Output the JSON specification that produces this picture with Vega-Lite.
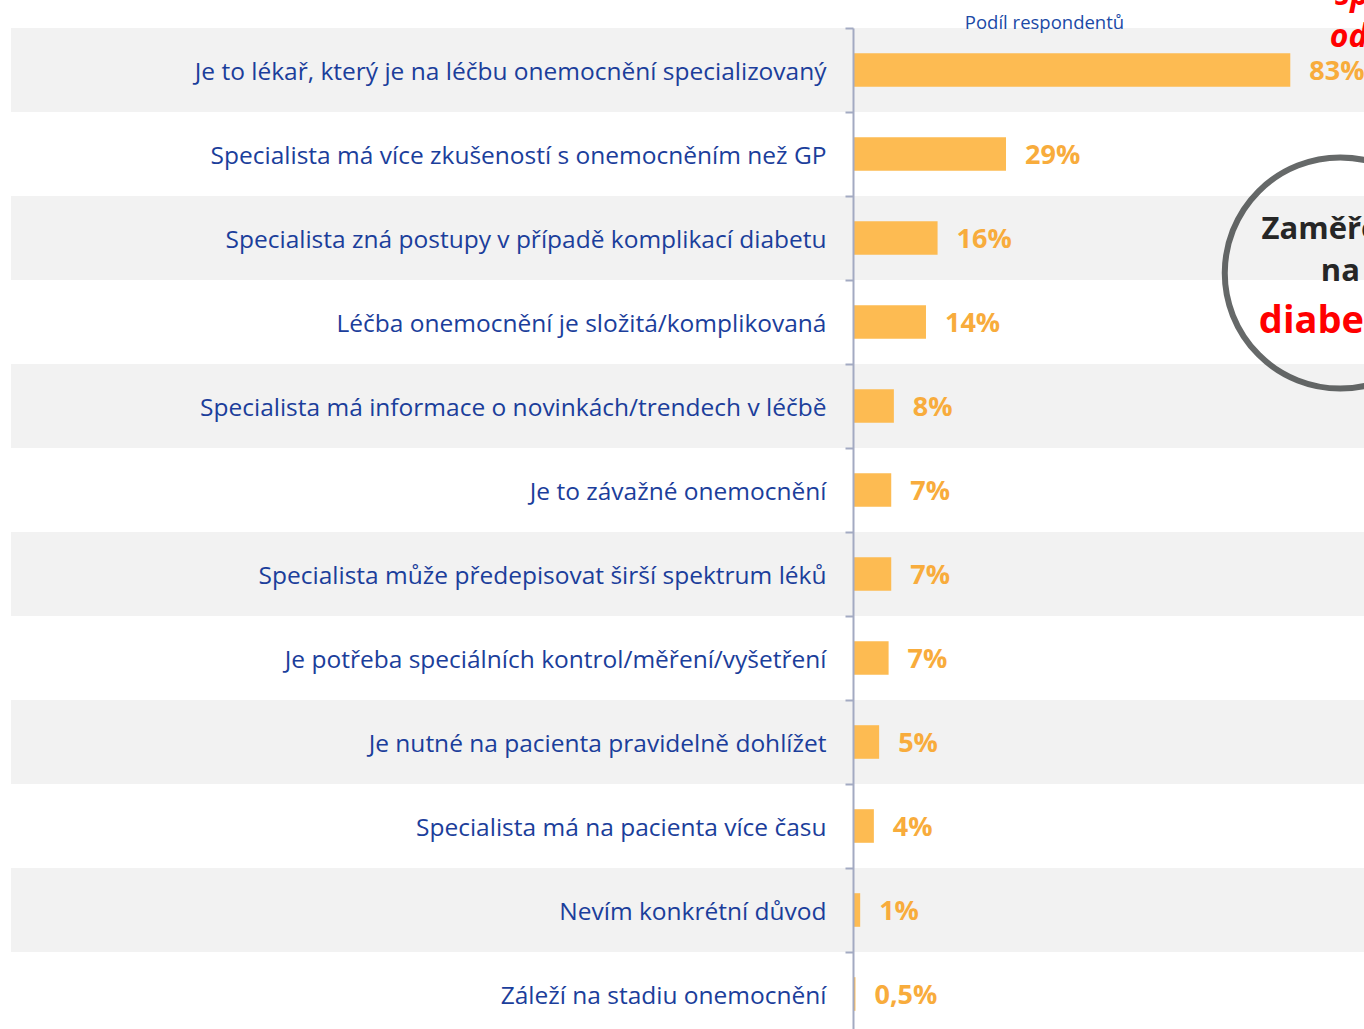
{
  "$schema": "https://vega.github.io/schema/vega-lite/v6.json",
  "width": 1353,
  "height": 1008,
  "autosize": {"type": "none"},
  "padding": {"left": 11, "top": 28, "right": 0, "bottom": 0},
  "background": "white",
  "config": {
    "view": {"stroke": null},
    "font": "Open Sans"
  },
  "data": {"values": [
    {"rank": 1, "reason": "Je to lékař, který je na léčbu onemocnění specializovaný", "share": 0.83, "label": "83%"},
    {"rank": 2, "reason": "Specialista má více zkušeností s onemocněním než GP", "share": 0.29, "label": "29%"},
    {"rank": 3, "reason": "Specialista zná postupy v případě komplikací diabetu", "share": 0.16, "label": "16%"},
    {"rank": 4, "reason": "Léčba onemocnění je složitá/komplikovaná", "share": 0.138, "label": "14%"},
    {"rank": 5, "reason": "Specialista má informace o novinkách/trendech v léčbě", "share": 0.077, "label": "8%"},
    {"rank": 6, "reason": "Je to závažné onemocnění", "share": 0.072, "label": "7%"},
    {"rank": 7, "reason": "Specialista může předepisovat širší spektrum léků", "share": 0.072, "label": "7%"},
    {"rank": 8, "reason": "Je potřeba speciálních kontrol/měření/vyšetření", "share": 0.067, "label": "7%"},
    {"rank": 9, "reason": "Je nutné na pacienta pravidelně dohlížet", "share": 0.049, "label": "5%"},
    {"rank": 10, "reason": "Specialista má na pacienta více času", "share": 0.039, "label": "4%"},
    {"rank": 11, "reason": "Nevím konkrétní důvod", "share": 0.013, "label": "1%"},
    {"rank": 12, "reason": "Záleží na stadiu onemocnění", "share": 0.004, "label": "0,5%"}
  ]},
  "encoding": {
    "y": {
      "field": "reason", "type": "nominal",
      "sort": ["Je to lékař, který je na léčbu onemocnění specializovaný", "Specialista má více zkušeností s onemocněním než GP", "Specialista zná postupy v případě komplikací diabetu", "Léčba onemocnění je složitá/komplikovaná", "Specialista má informace o novinkách/trendech v léčbě", "Je to závažné onemocnění", "Specialista může předepisovat širší spektrum léků", "Je potřeba speciálních kontrol/měření/vyšetření", "Je nutné na pacienta pravidelně dohlížet", "Specialista má na pacienta více času", "Nevím konkrétní důvod", "Záleží na stadiu onemocnění"],
      "scale": {"paddingInner": 0, "paddingOuter": 0},
      "axis": {
        "title": null, "orient": "left", "offset": -842, "zindex": 1,
        "domainColor": "#A3AAC2", "domainWidth": 2,
        "tickColor": "#A3AAC2", "tickWidth": 2, "tickSize": 8, "tickBand": "extent",
        "labelPadding": 19, "labelLimit": 1000, "labelOffset": 2,
        "labelFont": "Open Sans", "labelFontSize": 24.5, "labelColor": "#1B3E9B"
      }
    }
  },
  "layer": [
    {
      "transform": [{"filter": "datum.rank % 2 == 1"}],
      "mark": {"type": "rect", "color": "#F2F2F2"},
      "encoding": {}
    },
    {
      "mark": {"type": "bar", "color": "#FDBB52", "height": {"band": 0.4}},
      "encoding": {
        "x": {
          "field": "share", "type": "quantitative",
          "scale": {"domain": [-1.6, 0.97], "nice": false, "zero": false},
          "axis": {
            "orient": "top", "title": "Podíl respondentů", "labels": false, "ticks": false, "zindex": 1,
            "domain": false, "grid": false, "titleX": 1033, "titleY": 0,
            "titleBaseline": "alphabetic", "titleAnchor": "middle", "titleAlign": "center",
            "titleFont": "Open Sans", "titleFontSize": 18.5, "titleFontWeight": "normal", "titleColor": "#1B4AA6"
          }
        }
      }
    },
    {
      "mark": {"type": "text", "align": "left", "baseline": "middle", "dx": 19, "dy": 2,
               "font": "Open Sans", "fontSize": 27, "fontWeight": "bold", "color": "#F8AC3C"},
      "encoding": {
        "x": {"field": "share", "type": "quantitative"},
        "text": {"field": "label"}
      }
    },
    {
      "data": {"values": [{"reason": "Specialista zná postupy v případě komplikací diabetu", "pos": 0.925}]},
      "mark": {"type": "point", "shape": "circle", "size": 53400, "filled": false, "stroke": "#262A2A", "strokeWidth": 6, "yOffset": 35},
      "encoding": {"x": {"field": "pos", "type": "quantitative"}}
    },
    {
      "data": {"values": [
        {"reason": "Specialista zná postupy v případě komplikací diabetu", "pos": 0.925, "t": "Zaměřeno", "off": 34},
        {"reason": "Specialista zná postupy v případě komplikací diabetu", "pos": 0.925, "t": "na", "off": 76}
      ]},
      "mark": {"type": "text", "align": "center", "baseline": "middle", "font": "Open Sans", "fontSize": 31, "fontWeight": "bold", "color": "#262626"},
      "encoding": {"x": {"field": "pos", "type": "quantitative"}, "text": {"field": "t"}, "yOffset": {"field": "off", "type": "quantitative", "scale": null}}
    },
    {
      "data": {"values": [{"reason": "Léčba onemocnění je složitá/komplikovaná", "pos": 0.925, "t": "diabetes"}]},
      "mark": {"type": "text", "align": "center", "baseline": "middle", "font": "Open Sans", "fontSize": 38, "fontWeight": "bold", "color": "#FF0000"},
      "encoding": {"x": {"field": "pos", "type": "quantitative"}, "text": {"field": "t"}}
    },
    {
      "data": {"values": [
        {"reason": "Je to lékař, který je na léčbu onemocnění specializovaný", "pos": 0.915, "t": "specialistovi", "off": -33},
        {"reason": "Je to lékař, který je na léčbu onemocnění specializovaný", "pos": 0.905, "t": "od praktika", "off": 9}
      ]},
      "mark": {"type": "text", "align": "left", "baseline": "middle", "font": "Open Sans", "fontSize": 32, "fontWeight": "bold", "fontStyle": "italic", "color": "#FF0000"},
      "encoding": {"x": {"field": "pos", "type": "quantitative"}, "text": {"field": "t"}, "yOffset": {"field": "off", "type": "quantitative", "scale": null}}
    }
  ]
}
